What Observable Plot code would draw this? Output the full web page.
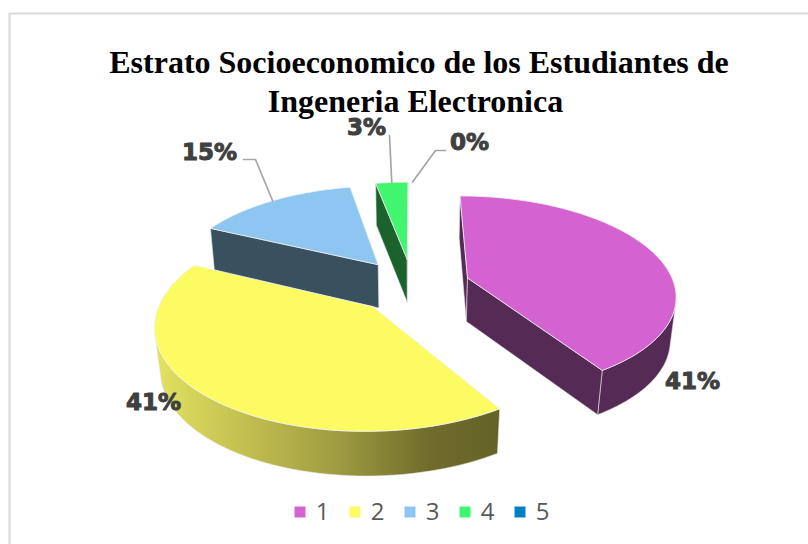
<!DOCTYPE html>
<html><head><meta charset="utf-8">
<style>html,body{margin:0;padding:0;background:#fff}svg{display:block}</style>
<script src="https://cdn.jsdelivr.net/npm/d3@7"></script>
<script src="https://cdn.jsdelivr.net/npm/@observablehq/plot@0.6"></script>
</head><body><div id="chart"></div>
<script>
const categories = ["1","2","3","4","5"];
const values = [41,41,15,3,0];
const topColors = ["#D462D0","#FCFC62","#8EC6F2","#42F56E","#007EC6"];
const wallColors = ["#552A55","url(#wallGradient)","#39505F","#1B622C","#00405F"];
const drawOrder = [3,2,0,1];
const titleLines = ["Estrato Socioeconomico de los Estudiantes de","Ingeneria Electronica"];
const titleCenters = [418.5,415];

// view of the pie: perspective camera
const view = {cx:412, cy:285, R:207, q:0.47, D:1300, Dz:2000, explode:58, h:44};
const project = (X,Y,Z=0) => {
  const s = 1/(1 - Y/view.D + Z/view.Dz);
  return {x: view.cx + X*s, y: view.cy + view.q*Y*s + Z*(1+(s-1)*0.5)};
};
const total = d3.sum(values);
let acc = 0;
const slices = values.map((v,i)=>{
  const a0 = acc/total*2*Math.PI; acc += v;
  const a1 = acc/total*2*Math.PI, mid=(a0+a1)/2;
  const ox = view.explode*Math.sin(mid), oy = -view.explode*Math.cos(mid);
  const world = a => [ox+view.R*Math.sin(a), oy-view.R*Math.cos(a)];
  const n = Math.max(2,Math.ceil((a1-a0)/0.03));
  const rim = d3.range(n+1).map(k=>world(a0+(a1-a0)*k/n));
  return {i,v,a0,a1,mid,ox,oy,world,rim};
});
const poly = (pts,opts) => Plot.line([...pts,pts[0]],{x:"x",y:"y",curve:"linear",...opts});
function wallRuns(s){
  const outline=[[s.ox,s.oy],...s.rim,[s.ox,s.oy]];
  const runs=[];let cur=null;
  outline.slice(0,-1).forEach((A,k)=>{
    const B=outline[k+1];
    const a=project(A[0],A[1]),b=project(B[0],B[1]),c=project(B[0],B[1],view.h),d=project(A[0],A[1],view.h);
    const q=[a,b,c,d];
    const area=d3.sum(q,(p,j)=>{const r=q[(j+1)%4];return p.x*r.y-r.x*p.y;});
    const corner = k===0||k===1||k===outline.length-2;
    if(area<0){
      if(!cur||corner){cur=[];runs.push(cur); cur.push(A);}
      cur.push(B);
    } else cur=null;
  });
  return runs;
}
const polygons=[];
const yellowXs=[];
drawOrder.forEach(i=>{
  const s=slices[i];
  wallRuns(s).forEach(run=>{
    const top=run.map(p=>project(p[0],p[1]));
    const bot=run.map(p=>project(p[0],p[1],view.h)).reverse();
    if(i===1) top.forEach(p=>yellowXs.push(p.x));
    polygons.push(poly([...top,...bot],{fill:wallColors[i],stroke:"#e8e8e8",strokeWidth:0.8,strokeOpacity:0.75}));
  });
  const pts=[project(s.ox,s.oy),...s.rim.map(p=>project(p[0],p[1]))];
  polygons.push(poly(pts,{fill:topColors[i],stroke:"#f0f0f0",strokeWidth:0.8}));
});
const [gx0,gx1]=d3.extent(yellowXs);
const defsMark=()=>{
  const defs=d3.create("svg:defs");
  const g=defs.append("linearGradient").attr("id","wallGradient").attr("gradientUnits","userSpaceOnUse")
    .attr("x1",gx0).attr("x2",gx1).attr("y1",0).attr("y2",0);
  [[0,"#E2E262"],[0.25,"#C4C050"],[0.5,"#A3A044"],[0.8,"#6F6C2C"],[1,"#646226"]].forEach(([o,c])=>g.append("stop").attr("offset",o).attr("stop-color",c));
  return defs.node();
};
// data labels and leader lines
const rimAt=(s)=>{const w=s.world(s.mid);return project(w[0],w[1]);};
const labelSpots=[{x:692,y:381},{x:153,y:402},{x:209,y:152},{x:366,y:127},{x:469,y:142}];
const leaders=[
  {i:2,pts:[{x:255,y:159},{x:243,y:159}]},
  {i:3,pts:[{x:389,y:135}]},
  {i:4,pts:[{x:435,y:150},{x:445,y:150}]}
];
const leaderMarks=leaders.map(l=>{
  const pts=[rimAt(slices[l.i]),...l.pts];
  return Plot.line(pts,{x:"x",y:"y",stroke:"#A6A6A6",strokeWidth:1.7});
});
const labelRows=values.map((v,i)=>({...labelSpots[i],t:v+"%"}));
const legendStep=55, legendX=299.5, legendY=511.5;
const legendRows=categories.map((c,i)=>({c,i,x:legendX+i*legendStep,y:legendY,color:topColors[i]}));

const frame={x:9,y:13,right:808,bottom:544};
const plot=Plot.plot({
  width:808,height:544,margin:0,
  x:{domain:[0,808],range:[0,808],axis:null},
  y:{domain:[0,544],range:[0,544],axis:null},
  marks:[
    defsMark,
    Plot.line([{x:frame.x,y:frame.bottom},{x:frame.x,y:frame.y},{x:frame.right,y:frame.y}],{x:"x",y:"y",stroke:"#D9D9D9",strokeWidth:2.2}),
    Plot.text(titleLines.map((t,i)=>({t,x:titleCenters[i],y:62+i*39.5})),{x:"x",y:"y",text:"t",fontFamily:"Liberation Serif",fontWeight:"bold",fontSize:32,fill:"#000",textAnchor:"middle"}),
    ...polygons,
    ...leaderMarks,
    Plot.text(labelRows,{x:"x",y:"y",text:"t",fontFamily:"DejaVu Sans",fontWeight:"bold",fontSize:23,fill:"#404040",stroke:"#404040",strokeWidth:1,textAnchor:"middle"}),
    Plot.dot(legendRows,{x:"x",y:"y",symbol:"square",r:6.2,fill:"color"}),
    Plot.text(legendRows,{x:d=>d.x+22.5,y:"y",text:"c",fontFamily:"Open Sans",fontSize:24,fill:"#595959",textAnchor:"middle"})
  ]
});
document.getElementById("chart").append(plot);
</script></body></html>
